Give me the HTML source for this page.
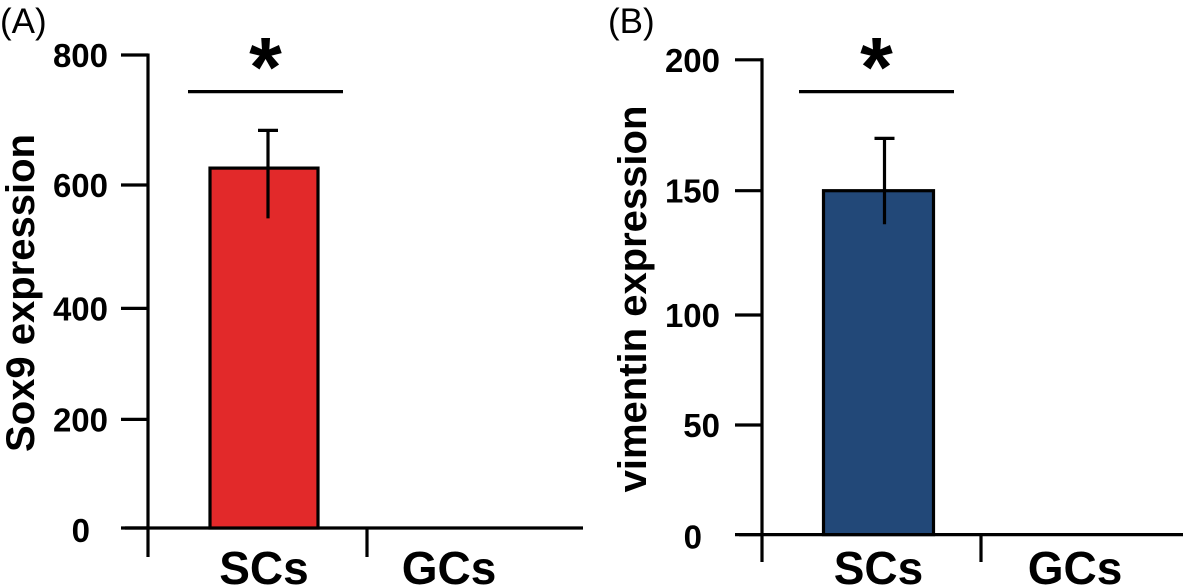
<!DOCTYPE html>
<html><head><meta charset="utf-8"><style>
html,body{margin:0;padding:0;background:#fff;}
svg{display:block;font-family:"Liberation Sans",Arial,sans-serif;}
</style></head><body>
<svg id="fig" width="1183" height="586" viewBox="0 0 1183 586">
<text x="0" y="33" font-size="35">(A)</text>
<text x="608" y="33" font-size="35">(B)</text>
<g id="pa"></g>
<g id="pb"></g>
</svg>
<script>
// Panel A data
const catsA = ["SCs", "GCs"];
const valsA = [626, 0];
const errHiA = [684, 0];
const errLoA = [546, 0];
const ticksA = [0, 200, 400, 600, 800];
// Panel B data
const catsB = ["SCs", "GCs"];
const valsB = [150, 0];
const errHiB = [170, 0];
const errLoB = [136.5, 0];
const ticksB = [0, 50, 100, 150, 200];

const NS = "http://www.w3.org/2000/svg";
function mk(parent, tag, attrs, text) {
  const e = document.createElementNS(NS, tag);
  for (const k in attrs) e.setAttribute(k, attrs[k]);
  if (text !== undefined) e.textContent = text;
  parent.appendChild(e);
  return e;
}
function piecewise(ticks, pix) {
  return v => {
    for (let i = 0; i < ticks.length - 1; i++) {
      if (v <= ticks[i + 1] || i === ticks.length - 2) {
        const t = (v - ticks[i]) / (ticks[i + 1] - ticks[i]);
        return pix[i] + t * (pix[i + 1] - pix[i]);
      }
    }
  };
}
function draw(g, o) {
  const y = piecewise(o.ticks, o.tickPix);
  const base = y(0);
  const sw = 3.2;
  let e = mk(g, "line", {x1: o.ax, y1: y(o.ticks[o.ticks.length-1]) - 1.5, x2: o.ax, y2: o.axBottom, stroke: "#000", "stroke-width": sw});
  
  
  o.ticks.forEach((t, i) => {
    let tl = mk(g, "line", {x1: o.tickLeft, y1: y(t), x2: o.ax, y2: y(t), stroke: "#000", "stroke-width": sw});
    
    
    if (t === 0) return;
    let lb = mk(g, "text", {x: o.labelRight, y: y(t) + 12, "font-size": 33, "font-weight": "bold", "text-anchor": "end"}, String(t));
    
    
  });
  let zl = mk(g, "text", {x: o.labelRight - 18, y: base + 14, "font-size": 33, "font-weight": "bold", "text-anchor": "end"}, "0");
  
  
  e = mk(g, "line", {x1: o.baseLeft, y1: base, x2: o.baseRight, y2: base, stroke: "#000", "stroke-width": sw});
  
  
  e = mk(g, "line", {x1: o.divX, y1: base, x2: o.divX, y2: o.axBottom, stroke: "#000", "stroke-width": sw});
  
  
  o.cats.forEach((c, i) => {
    const cx = o.catX[i];
    let lb = mk(g, "text", {x: cx, y: 584, "font-size": 46, "font-weight": "bold", "text-anchor": "middle"}, c);
    
    
    if (o.vals[i] > 0) {
      const top = y(o.vals[i]);
      let r = mk(g, "rect", {x: cx - o.barW/2, y: top, width: o.barW, height: base - top, fill: o.color, stroke: "#000", "stroke-width": sw});
      
      
      const ex = cx + o.errDx;
      let el = mk(g, "line", {x1: ex, y1: y(o.hi[i]), x2: ex, y2: y(o.lo[i]), stroke: "#000", "stroke-width": sw});
      
      
      let ec = mk(g, "line", {x1: ex - 10, y1: y(o.hi[i]), x2: ex + 10, y2: y(o.hi[i]), stroke: "#000", "stroke-width": sw});
      
      
    }
  });
  e = mk(g, "line", {x1: o.sigX1, y1: 91.6, x2: o.sigX2, y2: 91.6, stroke: "#000", "stroke-width": sw});
  
  
  e = mk(g, "text", {x: (o.sigX1 + o.sigX2)/2, y: 96, "font-size": 84, "font-weight": "bold", "text-anchor": "middle"}, "*");
  
  
  e = mk(g, "text", {x: 0, y: 0, "font-size": 40, "font-weight": "bold", "text-anchor": "middle", transform: `translate(${o.titleX},${o.titleY}) rotate(-90)`}, o.title);
  
  
}
draw(document.getElementById("pa"), {
  ticks: ticksA, tickPix: [528, 419.4, 308.4, 185, 55], cats: catsA, vals: valsA, hi: errHiA, lo: errLoA,
  ax: 148, axBottom: 557, tickLeft: 121, labelRight: 108, baseLeft: 125, baseRight: 583, divX: 367,
  catX: [264, 449], barW: 108, errDx: 4, color: "#e2292a", sigX1: 188, sigX2: 343,
  title: "Sox9 expression", titleX: 34, titleY: 293
});
draw(document.getElementById("pb"), {
  ticks: ticksB, tickPix: [534.6, 425, 315, 190.7, 59.8], cats: catsB, vals: valsB, hi: errHiB, lo: errLoB,
  ax: 762, axBottom: 562, tickLeft: 735, labelRight: 720, baseLeft: 739, baseRight: 1183, divX: 981,
  catX: [878.5, 1075], barW: 110, errDx: 6, color: "#224878", sigX1: 799, sigX2: 954,
  title: "vimentin expression", titleX: 646, titleY: 299
});
</script>
</body></html>
